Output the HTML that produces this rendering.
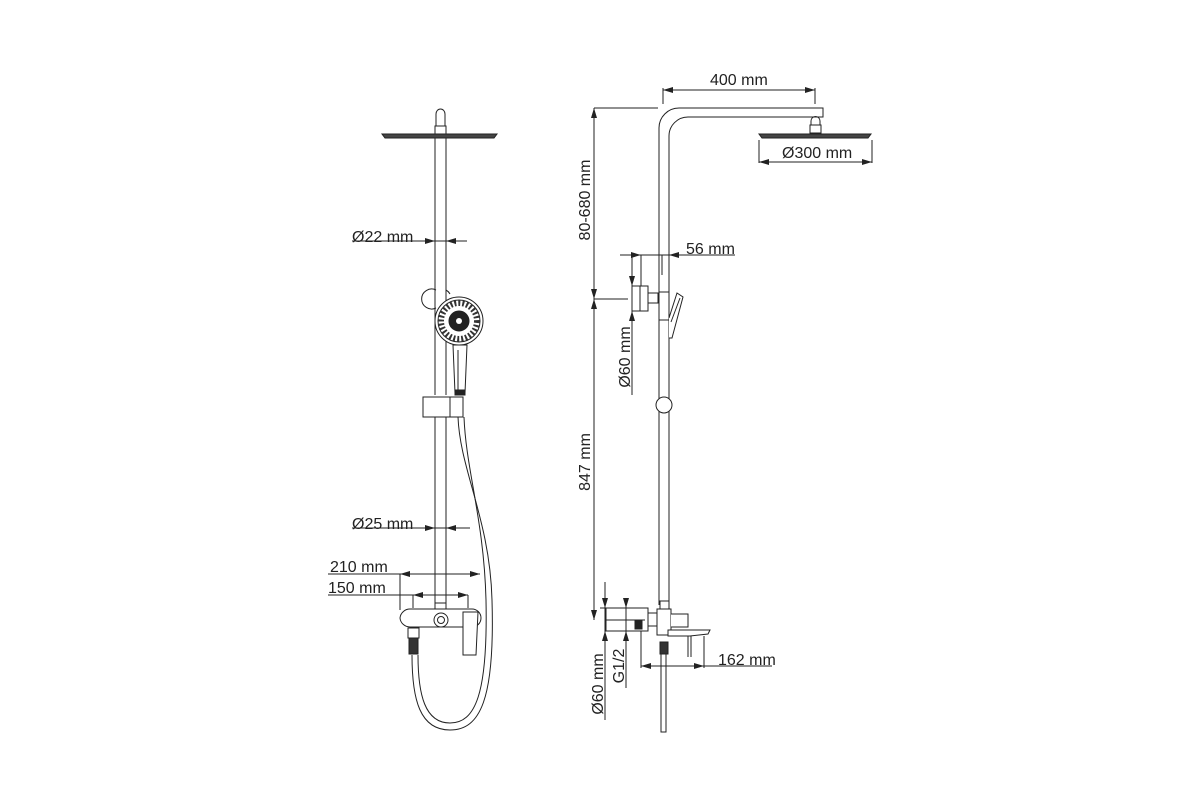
<!DOCTYPE html>
<html><head><meta charset="utf-8"><style>
html,body{margin:0;padding:0;background:#fff;}
svg{display:block;}
text{font-family:"Liberation Sans",sans-serif;font-size:16px;fill:#222;}
</style></head><body>
<svg width="1200" height="800" viewBox="0 0 1200 800" xmlns="http://www.w3.org/2000/svg">
<defs>
<marker id="a" viewBox="0 0 10 6" refX="10" refY="3" markerWidth="10" markerHeight="6" orient="auto-start-reverse"><path d="M0,0 L10,3 L0,6 z" fill="#222"/></marker>
</defs>
<g fill="none" stroke="#222" stroke-width="1">
<rect x="435" y="126" width="11" height="8" fill="#fff"/>
<path d="M436,126 v-12 a4.5,5 0 0 1 9,0 v12"/>
<path d="M382,134 L497,134 L494,138 L385,138 Z" fill="#444"/>
<line x1="435" y1="138" x2="435" y2="395"/>
<line x1="446" y1="138" x2="446" y2="395"/>
<line x1="352" y1="241" x2="467" y2="241"/>
<line x1="425" y1="241" x2="435" y2="241" marker-end="url(#a)"/>
<line x1="456" y1="241" x2="446" y2="241" marker-end="url(#a)"/>
<path d="M436,290 a10,10 0 1 0 0,18"/>
<path d="M446,290 a10,10 0 0 1 4,4"/>
<circle cx="459" cy="321" r="24" fill="#fff"/>
<circle cx="459" cy="321" r="21"/>
<circle cx="459" cy="321" r="18" stroke="#333" stroke-width="6" stroke-dasharray="2 2"/>
<circle cx="459" cy="321" r="10" fill="#222"/>
<circle cx="459" cy="321" r="3" fill="#fff" stroke="none"/>
<path d="M453,345 L467,345 L465,393 L455,393 Z" fill="#fff"/>
<line x1="458" y1="350" x2="458" y2="390"/>
<rect x="455" y="390" width="10" height="5" fill="#222"/>
<path d="M423,397 h40 v20 h-40 z" fill="#fff"/>
<line x1="450" y1="397" x2="450" y2="417"/>
<line x1="435" y1="417" x2="435" y2="608"/>
<line x1="446" y1="417" x2="446" y2="608"/>
<path d="M458,417 C460,470 490,520 492,600 C495,700 480,730 450,730 C420,730 412,700 412,655"/>
<path d="M464,417 C466,470 484,520 486,600 C488,695 475,723 450,723 C425,723 418,695 418,655"/>
<line x1="352" y1="528" x2="470" y2="528"/>
<line x1="425" y1="528" x2="435" y2="528" marker-end="url(#a)"/>
<line x1="456" y1="528" x2="446" y2="528" marker-end="url(#a)"/>
<line x1="328" y1="574" x2="480" y2="574"/>
<line x1="400" y1="574" x2="400" y2="610"/>
<line x1="410" y1="574" x2="400" y2="574" marker-end="url(#a)"/>
<line x1="470" y1="574" x2="480" y2="574" marker-end="url(#a)"/>
<line x1="328" y1="595" x2="468" y2="595"/>
<line x1="413" y1="595" x2="413" y2="608"/>
<line x1="468" y1="595" x2="468" y2="608"/>
<line x1="423" y1="595" x2="413" y2="595" marker-end="url(#a)"/>
<line x1="458" y1="595" x2="468" y2="595" marker-end="url(#a)"/>
<rect x="435" y="603" width="11" height="7" fill="#fff"/>
<path d="M410,609 H472 A9,9 0 0 1 481,618 A9,9 0 0 1 472,627 H410 A10,10 0 0 1 400,618 A10,10 0 0 1 410,609 Z" fill="#fff"/>
<circle cx="441" cy="620" r="7"/><circle cx="441" cy="620" r="3.5"/>
<path d="M463,612 L478,612 L476,655 L463,655 Z" fill="#fff"/>
<rect x="408" y="628" width="11" height="10" fill="#fff"/>
<rect x="409" y="638" width="9" height="16" fill="#333"/>
<path d="M659,605 V128 A20,20 0 0 1 679,108 H823 V117 H688 A19,19 0 0 0 669,136 V605"/>
<line x1="663" y1="88" x2="663" y2="104"/>
<line x1="815" y1="88" x2="815" y2="104"/>
<line x1="663" y1="90" x2="815" y2="90" marker-start="url(#a)" marker-end="url(#a)"/>
<rect x="810" y="125" width="11" height="8" fill="#fff"/>
<path d="M811,125 v-4 a4.5,4.5 0 0 1 9,0 v4"/>
<path d="M759,134 L871,134 L868,138 L762,138 Z" fill="#444"/>
<line x1="759" y1="140" x2="759" y2="163"/>
<line x1="872" y1="140" x2="872" y2="163"/>
<line x1="759" y1="162" x2="872" y2="162" marker-start="url(#a)" marker-end="url(#a)"/>
<line x1="594" y1="108" x2="658" y2="108"/>
<line x1="594" y1="108" x2="594" y2="299" marker-start="url(#a)" marker-end="url(#a)"/>
<line x1="594" y1="299" x2="594" y2="620" marker-start="url(#a)" marker-end="url(#a)"/>
<line x1="594" y1="299" x2="628" y2="299"/>
<line x1="620" y1="255" x2="735" y2="255"/>
<line x1="620" y1="255" x2="641" y2="255" marker-end="url(#a)"/>
<line x1="679" y1="255" x2="669" y2="255" marker-end="url(#a)"/>
<line x1="641" y1="255" x2="641" y2="286"/>
<line x1="662" y1="255" x2="662" y2="275"/>
<line x1="632" y1="255" x2="632" y2="395"/>
<line x1="632" y1="270" x2="632" y2="286" marker-end="url(#a)"/>
<line x1="632" y1="325" x2="632" y2="311" marker-end="url(#a)"/>
<rect x="632" y="286" width="16" height="25" fill="#fff"/>
<line x1="640" y1="286" x2="640" y2="311"/>
<rect x="648" y="293" width="10" height="10" fill="#fff"/>
<rect x="659" y="292" width="10" height="28" fill="#fff"/>
<path d="M669,318 L677,293 L683,297 L672,338 L669,338" fill="#fff"/>
<line x1="680" y1="298" x2="671" y2="322"/>
<circle cx="664" cy="405" r="8" fill="#fff"/>
<line x1="600" y1="608" x2="606" y2="608"/>
<rect x="606" y="608" width="42" height="23" fill="#fff"/>
<line x1="606" y1="620" x2="645" y2="620"/>
<rect x="635" y="620" width="7" height="9" fill="#222"/>
<line x1="605" y1="582" x2="605" y2="720"/>
<line x1="605" y1="592" x2="605" y2="608" marker-end="url(#a)"/>
<line x1="605" y1="647" x2="605" y2="631" marker-end="url(#a)"/>
<line x1="626" y1="598" x2="626" y2="688"/>
<line x1="626" y1="605" x2="626" y2="608" marker-end="url(#a)"/>
<line x1="626" y1="642" x2="626" y2="631" marker-end="url(#a)"/>
<rect x="648" y="613" width="9" height="13" fill="#fff"/>
<rect x="660" y="601" width="9" height="8" fill="#fff"/>
<rect x="657" y="609" width="14" height="26" fill="#fff"/>
<path d="M671,614 H688 V627 H671" fill="#fff"/>
<path d="M668,630 H710 L708,634 L690,636 L668,636 Z" fill="#fff"/>
<line x1="688" y1="636" x2="688" y2="657"/><line x1="691" y1="636" x2="691" y2="657"/>
<rect x="660" y="642" width="8" height="12" fill="#333"/>
<rect x="661" y="654" width="5" height="78" fill="#fff"/>
<line x1="641" y1="631" x2="641" y2="668"/>
<line x1="704" y1="636" x2="704" y2="668"/>
<line x1="641" y1="666" x2="772" y2="666"/>
<line x1="651" y1="666" x2="641" y2="666" marker-end="url(#a)"/>
<line x1="694" y1="666" x2="704" y2="666" marker-end="url(#a)"/>
</g>
<text x="352" y="242">Ø22 mm</text>
<text x="352" y="529">Ø25 mm</text>
<text x="330" y="572">210 mm</text>
<text x="328" y="593">150 mm</text>
<text x="710" y="85">400 mm</text>
<text x="782" y="158">Ø300 mm</text>
<text x="686" y="254">56 mm</text>
<text x="718" y="665">162 mm</text>
<text transform="translate(590,200) rotate(-90)" text-anchor="middle">80-680 mm</text>
<text transform="translate(590,462) rotate(-90)" text-anchor="middle">847 mm</text>
<text transform="translate(630,357) rotate(-90)" text-anchor="middle">Ø60 mm</text>
<text transform="translate(603,684) rotate(-90)" text-anchor="middle">Ø60 mm</text>
<text transform="translate(624,666) rotate(-90)" text-anchor="middle">G1/2</text>
</svg>
</body></html>
